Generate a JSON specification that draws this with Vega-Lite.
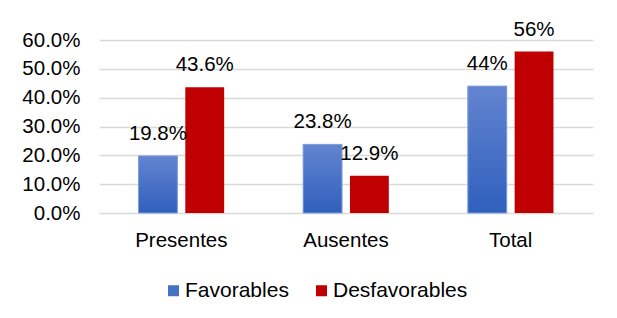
{
  "$schema": "https://vega.github.io/schema/vega-lite/v6.json",
  "autosize": {"type": "none"},
  "width": 494,
  "height": 173,
  "padding": {"left": 99, "top": 40, "right": 24, "bottom": 105},
  "background": "white",
  "config": {
    "font": "Liberation Sans",
    "view": {"stroke": null},
    "axis": {"labelFont": "Liberation Sans", "labelColor": "#000000", "labelFontSize": 20.5}
  },
  "data": {
    "values": [
      {"grupo": "Presentes", "serie": "Favorables", "valor": 19.8, "etiqueta": "19.8%"},
      {"grupo": "Presentes", "serie": "Desfavorables", "valor": 43.6, "etiqueta": "43.6%"},
      {"grupo": "Ausentes", "serie": "Favorables", "valor": 23.8, "etiqueta": "23.8%"},
      {"grupo": "Ausentes", "serie": "Desfavorables", "valor": 12.9, "etiqueta": "12.9%"},
      {"grupo": "Total", "serie": "Favorables", "valor": 44, "etiqueta": "44%"},
      {"grupo": "Total", "serie": "Desfavorables", "valor": 56, "etiqueta": "56%"}
    ]
  },
  "encoding": {
    "x": {
      "field": "grupo", "type": "nominal",
      "sort": ["Presentes", "Ausentes", "Total"],
      "scale": {"paddingInner": 0.48, "paddingOuter": 0.24},
      "axis": {"title": null, "labelAngle": 0, "ticks": false, "tickSize": 0, "domain": false, "labelPadding": 17}
    },
    "xOffset": {
      "field": "serie", "type": "nominal",
      "scale": {"domain": ["Favorables", "Desfavorables"], "paddingInner": 0.17}
    },
    "y": {
      "field": "valor", "type": "quantitative",
      "scale": {"domain": [0, 60], "nice": false},
      "axis": {
        "title": null, "values": [0, 10, 20, 30, 40, 50, 60],
        "labelExpr": "format(datum.value, '.1f') + '%'",
        "ticks": false, "tickSize": 0, "domain": false, "labelPadding": 19,
        "grid": true, "gridColor": "#d9d9d9", "gridWidth": 1.5
      }
    }
  },
  "layer": [
    {
      "mark": {"type": "bar"},
      "encoding": {
        "color": {
          "field": "serie", "type": "nominal",
          "scale": {"domain": ["Favorables", "Desfavorables"], "range": ["#4472c4", "#c00000"]},
          "legend": {
            "title": null, "orient": "none", "direction": "horizontal",
            "legendX": 64, "legendY": 240,
            "symbolType": "square", "symbolSize": 121, "symbolStrokeWidth": 0,
            "labelFont": "Liberation Sans", "labelFontSize": 21, "labelColor": "#000000",
            "labelOffset": 1, "columnPadding": 22
          }
        }
      }
    },
    {
      "transform": [{"filter": "datum.serie === 'Favorables'"}],
      "mark": {
        "type": "bar",
        "stroke": "#7f9ddb", "strokeWidth": 1,
        "fill": {
          "gradient": "linear", "x1": 0, "y1": 0, "x2": 0, "y2": 1,
          "stops": [{"offset": 0, "color": "#6384d0"}, {"offset": 1, "color": "#2f60bd"}]
        }
      }
    },
    {
      "mark": {"type": "text", "baseline": "alphabetic", "dy": -16, "fontSize": 20.5, "font": "Liberation Sans", "color": "#000000"},
      "encoding": {"text": {"field": "etiqueta"}}
    }
  ]
}
